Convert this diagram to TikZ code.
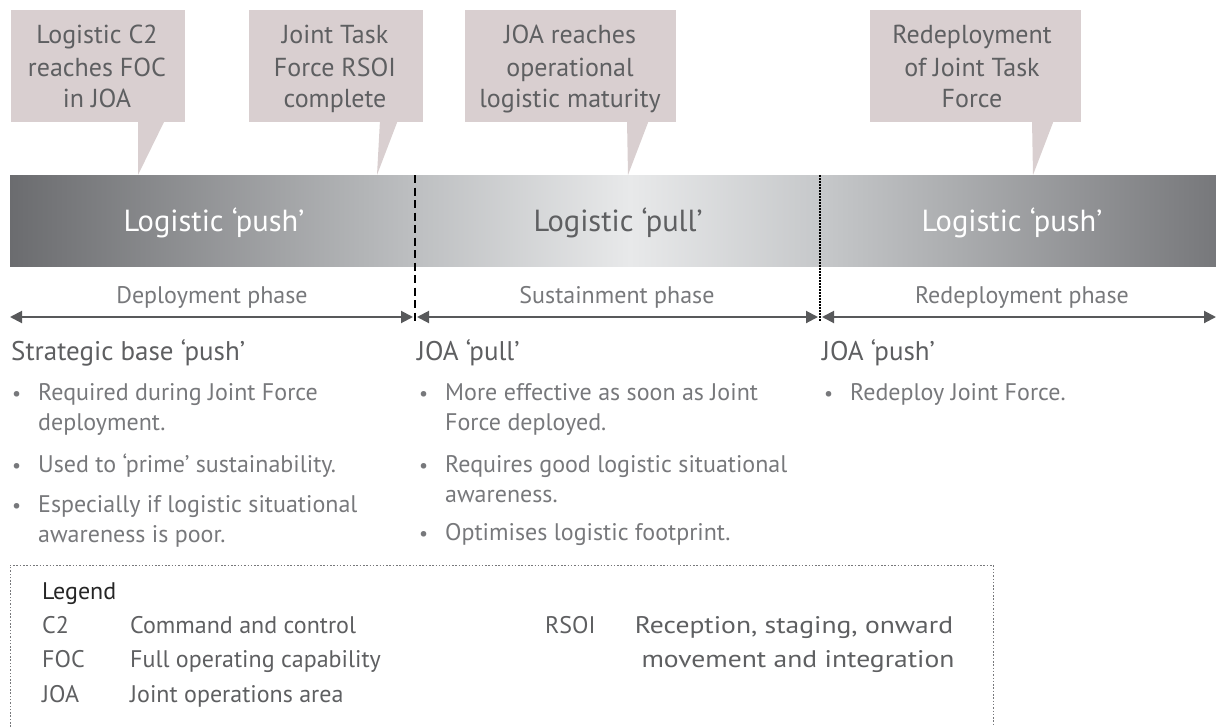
\documentclass[tikz,border=0pt]{standalone}
\usepackage{fontspec}
\setmainfont{PT Sans}
\usetikzlibrary{arrows.meta}
\definecolor{callfill}{HTML}{D9CFD0}
\definecolor{txt}{HTML}{5E5F61}
\definecolor{lighttxt}{HTML}{77787B}
\definecolor{arrowcol}{HTML}{58595B}
\definecolor{barA}{HTML}{6B6C6F}
\definecolor{barB}{HTML}{BDBFC1}
\definecolor{barC}{HTML}{E8E9EA}
\definecolor{barD}{HTML}{C6C8CA}
\definecolor{barE}{HTML}{77787B}
\tikzset{
  callbox/.style={fill=callfill, draw=none, inner sep=0pt, anchor=north west},
  calltail/.style={fill=callfill, draw=none},
  calltext/.style={font=\fontsize{26}{30}\selectfont, text=txt, anchor=base, inner sep=0pt},
  bartext/.style={font=\fontsize{30.5}{34}\selectfont, text=white, anchor=base, inner sep=0pt},
  phasetext/.style={font=\fontsize{24}{28}\selectfont, text=lighttxt, anchor=base, inner sep=0pt},
  phasearrow/.style={draw=arrowcol, line width=2pt, {Triangle[length=12pt,width=12pt]}-{Triangle[length=12pt,width=12pt]}},
  headtext/.style={font=\fontsize{27}{31}\selectfont, text=txt, anchor=base west, inner sep=0pt},
  bullettext/.style={font=\fontsize{24}{28}\selectfont, text=lighttxt, anchor=base west, inner sep=0pt},
  bulletdot/.style={font=\fontsize{20}{24}\selectfont, text=lighttxt, anchor=base west, inner sep=0pt},
  dashline/.style={draw=black, line width=1.2pt, dash pattern=on 8pt off 4.5pt},
  dotline/.style={draw=black, line width=1.3pt, dash pattern=on 1.5pt off 1.5pt},
  legendbox/.style={draw=lighttxt, line width=1pt, dash pattern=on 1.5pt off 1.8pt},
  legtitle/.style={font=\fontsize{24}{28}\selectfont, text=black!85, anchor=base west, inner sep=0pt},
  legtext/.style={font=\fontsize{24}{28}\selectfont, text=txt, anchor=base west, inner sep=0pt},
}
\begin{document}
\begin{tikzpicture}[x=1pt,y=-1pt]
\useasboundingbox (0,0) rectangle (1216,726);

% ---------- bar ----------
\shade[left color=barA, right color=barB] (10,175) rectangle (415,266);
\shade[left color=barB, right color=barC] (415,175) rectangle (630,266);
\shade[left color=barC, right color=barD] (630,175) rectangle (820,266);
\shade[left color=barD, right color=barE] (820,175) rectangle (1216,266);

\node[bartext] (bar1) at (214,231) {Logistic ‘push’};
\node[bartext, text=txt] (bar2) at (618,231) {Logistic ‘pull’};
\node[bartext] (bar3) at (1012,231) {Logistic ‘push’};

% ---------- callouts ----------
\node[callbox, minimum width=174pt, minimum height=112pt] (cb1) at (11,10) {};
\fill[calltail] (138,120) -- (165,120) -- (138,175) -- cycle;
\node[calltext] (ct1a) at (97,43) {Logistic C2};
\node[calltext] (ct1b) at (97,76) {reaches FOC};
\node[calltext] (ct1c) at (97,107) {in JOA};

\node[callbox, minimum width=174pt, minimum height=112pt] (cb2) at (249,10) {};
\fill[calltail] (380,120) -- (398,120) -- (377,175) -- cycle;
\node[calltext] (ct2a) at (335,43) {Joint Task};
\node[calltext] (ct2b) at (335,76) {Force RSOI};
\node[calltext] (ct2c) at (335,107) {complete};

\node[callbox, minimum width=211pt, minimum height=112pt] (cb3) at (465,10) {};
\fill[calltail] (627,120) -- (649,120) -- (628,175) -- cycle;
\node[calltext] (ct3a) at (570,43) {JOA reaches};
\node[calltext] (ct3b) at (570,76) {operational};
\node[calltext] (ct3c) at (570,107) {logistic maturity};

\node[callbox, minimum width=211pt, minimum height=112pt] (cb4) at (870,10) {};
\fill[calltail] (1032,120) -- (1054,120) -- (1033,175) -- cycle;
\node[calltext] (ct4a) at (972,43) {Redeployment};
\node[calltext] (ct4b) at (972,76) {of Joint Task};
\node[calltext] (ct4c) at (972,107) {Force};

% ---------- phase separators ----------
\coordinate (s1top) at (415,175);
\coordinate (s1bot) at (415,322);
\coordinate (s2top) at (820,175);
\coordinate (s2bot) at (820,322);
\draw[dashline] (s1top) -- (s1bot);
\draw[dotline] (s2top) -- (s2bot);

% ---------- phase arrows ----------
\node[phasetext] (ph1) at (212,303) {Deployment phase};
\node[phasetext] (ph2) at (617,303) {Sustainment phase};
\node[phasetext] (ph3) at (1022,303) {Redeployment phase};

\coordinate (a1l) at (10,317);
\coordinate (a1r) at (413,317);
\coordinate (a2l) at (417,317);
\coordinate (a2r) at (818,317);
\coordinate (a3l) at (822,317);
\coordinate (a3r) at (1216,317);
\draw[phasearrow] (a1l) -- (a1r);
\draw[phasearrow] (a2l) -- (a2r);
\draw[phasearrow] (a3l) -- (a3r);

% ---------- column 1 ----------
\node[headtext] (h1) at (11,360) {Strategic base ‘push’};
\node[bulletdot] (b1a) at (12,400) {•};
\node[bullettext] (t1a) at (38,400) {Required during Joint Force};
\node[bullettext] (t1b) at (38,430) {deployment.};
\node[bulletdot] (b1b) at (12,472) {•};
\node[bullettext] (t1c) at (38,472) {Used to ‘prime’ sustainability.};
\node[bulletdot] (b1c) at (12,512) {•};
\node[bullettext] (t1d) at (38,512) {Especially if logistic situational};
\node[bullettext] (t1e) at (38,542) {awareness is poor.};

% ---------- column 2 ----------
\node[headtext] (h2) at (417,360) {JOA ‘pull’};
\node[bulletdot] (b2a) at (419,400) {•};
\node[bullettext] (t2a) at (445,400) {More effective as soon as Joint};
\node[bullettext] (t2b) at (445,430) {Force deployed.};
\node[bulletdot] (b2b) at (419,472) {•};
\node[bullettext] (t2c) at (445,472) {Requires good logistic situational};
\node[bullettext] (t2d) at (445,502) {awareness.};
\node[bulletdot] (b2c) at (419,540) {•};
\node[bullettext] (t2e) at (445,540) {Optimises logistic footprint.};

% ---------- column 3 ----------
\node[headtext] (h3) at (822,360) {JOA ‘push’};
\node[bulletdot] (b3a) at (824,400) {•};
\node[bullettext] (t3a) at (850,400) {Redeploy Joint Force.};

% ---------- legend ----------
\coordinate (lg1) at (10,740);
\coordinate (lg2) at (10,565);
\coordinate (lg3) at (993,565);
\coordinate (lg4) at (993,740);
\draw[legendbox] (lg1) -- (lg2) -- (lg3) -- (lg4);

\node[legtitle] (lgt) at (42,599) {Legend};
\node[legtext] (k1) at (42,633) {C2};
\node[legtext] (v1) at (130,633) {Command and control};
\node[legtext] (k2) at (42,667) {FOC};
\node[legtext] (v2) at (130,667) {Full operating capability};
\node[legtext] (k3) at (42,702) {JOA};
\node[legtext] (v3) at (130,702) {Joint operations area};
\node[legtext] (k4) at (545,633) {RSOI};
\node[legtext, anchor=base] (v4a) at (794,633) {\scalebox{1.15}[1]{Reception, staging, onward}};
\node[legtext, anchor=base] (v4b) at (798,667) {\scalebox{1.15}[1]{movement and integration}};
\end{tikzpicture}
\end{document}
